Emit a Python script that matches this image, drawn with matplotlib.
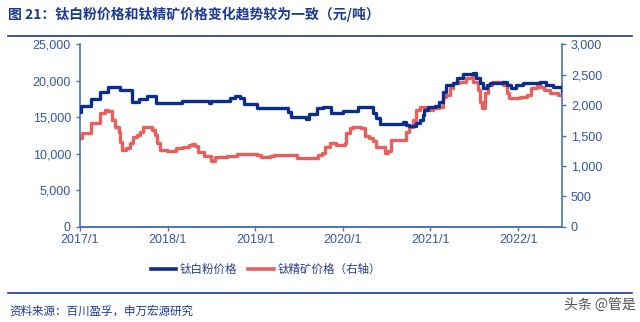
import matplotlib.pyplot as plt
from matplotlib.lines import Line2D

plt.rcParams['font.family'] = ['Liberation Sans', 'Noto Sans CJK SC', 'DejaVu Sans']
cjk = ['Noto Sans CJK SC', 'DejaVu Sans']

# 钛白粉价格 (left axis), x in decimal years
tio2_x = [2017.00, 2017.01, 2017.13, 2017.23, 2017.32, 2017.46, 2017.59, 2017.67, 2017.76,
          2017.87, 2018.16, 2018.47, 2018.49, 2018.71, 2018.77, 2018.83, 2018.87, 2019.02,
          2019.37, 2019.41, 2019.58, 2019.61, 2019.70, 2019.77, 2019.86, 2020.00, 2020.17,
          2020.34, 2020.38, 2020.42, 2020.69, 2020.72, 2020.76, 2020.84, 2020.88, 2020.91,
          2020.93, 2020.97, 2021.05, 2021.10, 2021.14, 2021.18, 2021.26, 2021.30, 2021.37,
          2021.49, 2021.52, 2021.56, 2021.60, 2021.64, 2021.68, 2021.83, 2021.87, 2021.92,
          2021.98, 2022.06, 2022.13, 2022.25, 2022.32, 2022.40, 2022.50]
tio2_y = [15800, 16500, 17500, 18500, 19200, 18800, 17100, 17500, 17900,
          17000, 17200, 17000, 17300, 17600, 17900, 17600, 16800, 16300,
          15800, 15000, 14800, 15450, 16230, 16450, 15540, 15900, 16450,
          15540, 14850, 14080, 14300, 14000, 13800, 14200, 14630, 15300,
          16000, 16360, 16550, 17140, 18500, 19420, 19650, 20340, 20930,
          21020, 20340, 19650, 18970, 19420, 19650, 19880, 19420, 18970,
          19420, 19650, 19740, 19880, 19420, 19100, 18650]

# 钛精矿价格 (right axis)
ilm_x = [2017.00, 2017.02, 2017.13, 2017.23, 2017.29, 2017.32, 2017.36, 2017.40, 2017.44,
         2017.46, 2017.48, 2017.53, 2017.57, 2017.61, 2017.65, 2017.69, 2017.72, 2017.78,
         2017.82, 2017.86, 2017.88, 2017.91, 2017.99, 2018.10, 2018.18, 2018.24, 2018.28,
         2018.31, 2018.35, 2018.41, 2018.47, 2018.49, 2018.54, 2018.68, 2018.79, 2019.02,
         2019.06, 2019.17, 2019.21, 2019.44, 2019.48, 2019.70, 2019.72, 2019.76, 2019.80,
         2019.85, 2019.92, 2020.00, 2020.02, 2020.04, 2020.08, 2020.11, 2020.21, 2020.25,
         2020.30, 2020.34, 2020.38, 2020.46, 2020.48, 2020.51, 2020.55, 2020.70, 2020.72,
         2020.76, 2020.80, 2020.84, 2020.88, 2020.93, 2020.95, 2021.03, 2021.10, 2021.14,
         2021.18, 2021.22, 2021.26, 2021.33, 2021.41, 2021.47, 2021.49, 2021.54, 2021.57,
         2021.59, 2021.62, 2021.66, 2021.70, 2021.79, 2021.83, 2021.87, 2021.90, 2021.96,
         2022.02, 2022.10, 2022.15, 2022.21, 2022.25, 2022.29, 2022.36, 2022.46, 2022.50]
ilm_y = [1453, 1547, 1711, 1865, 1920, 1900, 1755, 1645, 1563,
         1399, 1261, 1290, 1371, 1481, 1508, 1563, 1634, 1645,
         1590, 1508, 1371, 1261, 1250, 1289, 1316, 1344, 1360,
         1327, 1234, 1163, 1160, 1086, 1152, 1168, 1196, 1179,
         1141, 1163, 1179, 1179, 1124, 1124, 1179, 1218, 1316,
         1371, 1344, 1344, 1371, 1536, 1618, 1645, 1630, 1492,
         1453, 1415, 1316, 1316, 1207, 1240, 1426, 1426, 1563,
         1645, 1755, 1920, 1964, 1964, 1920, 1947, 1975, 2139,
         2166, 2276, 2358, 2386, 2441, 2468, 2386, 2249, 2057,
         1947, 2194, 2331, 2386, 2386, 2331, 2194, 2112, 2112,
         2139, 2166, 2276, 2358, 2304, 2249, 2194, 2166, 2166]

years = [2017, 2018, 2019, 2020, 2021, 2022]
year_labels = ['2017/1', '2018/1', '2019/1', '2020/1', '2021/1', '2022/1']

navy = '#0B2D8C'
red = '#E8605C'
axc = '#4A72C4'
txt = '#3455A8'

fig = plt.figure(figsize=(6.4, 3.22), dpi=100)
ax = fig.add_axes([0.125, 0.296, 0.753, 0.566])
ax2 = ax.twinx()

ax.plot(tio2_x, tio2_y, color=navy, lw=2.4, drawstyle='steps-post', zorder=3)
ax2.plot(ilm_x, ilm_y, color=red, lw=2.4, drawstyle='steps-post', zorder=2)
ax.set_zorder(ax2.get_zorder() + 1)
ax.patch.set_visible(False)

ax.set_xlim(2017.0, 2022.5)
ax.set_ylim(0, 25000)
ax2.set_ylim(0, 3000)
ax.set_yticks(range(0, 25001, 5000))
ax2.set_yticks(range(0, 3001, 500))
ax.set_yticklabels(['{:,}'.format(v) for v in range(0, 25001, 5000)])
ax2.set_yticklabels(['{:,}'.format(v) for v in range(0, 3001, 500)])
ax.set_xticks(years)
ax.set_xticklabels(year_labels)

for a in (ax, ax2):
    for s in a.spines.values():
        s.set_color(axc)
        s.set_linewidth(1.2)
    a.spines['top'].set_visible(False)
    a.tick_params(colors=axc, labelcolor=txt, labelsize=9, length=3, width=1)
ax.spines['right'].set_visible(False)
ax2.spines['left'].set_visible(False)
ax.tick_params(axis='x', pad=2)

# title and rules
fig.text(0.013, 0.955, '图 21：钛白粉价格和钛精矿价格变化趋势较为一致（元/吨）',
         fontsize=10, fontweight='bold', color='#1C3A94', va='center', family=cjk)
fig.add_artist(Line2D([0.012, 0.988], [0.888, 0.888], color='#1C3A94', lw=1.2))
fig.add_artist(Line2D([0.012, 0.988], [0.09, 0.09], color='#1C3A94', lw=1.2))

handles = [Line2D([], [], color=navy, lw=2.6), Line2D([], [], color=red, lw=2.6)]
fig.legend(handles, ['钛白粉价格', '钛精矿价格（右轴）'], loc='center',
           bbox_to_anchor=(0.415, 0.162), ncol=2, frameon=False,
           prop={'family': cjk, 'size': 8.3},
           labelcolor='#2A3F8F', handlelength=2.2, columnspacing=1.0, handletextpad=0.3)

fig.text(0.015, 0.035, '资料来源：百川盈孚，申万宏源研究', fontsize=8.3,
         color='#1C3A94', va='center', family=cjk)
fig.text(0.993, 0.052, '头条 @管是', fontsize=10, color='#555555', va='center', ha='right',
         family=cjk)

fig.savefig('out.png', dpi=100)
